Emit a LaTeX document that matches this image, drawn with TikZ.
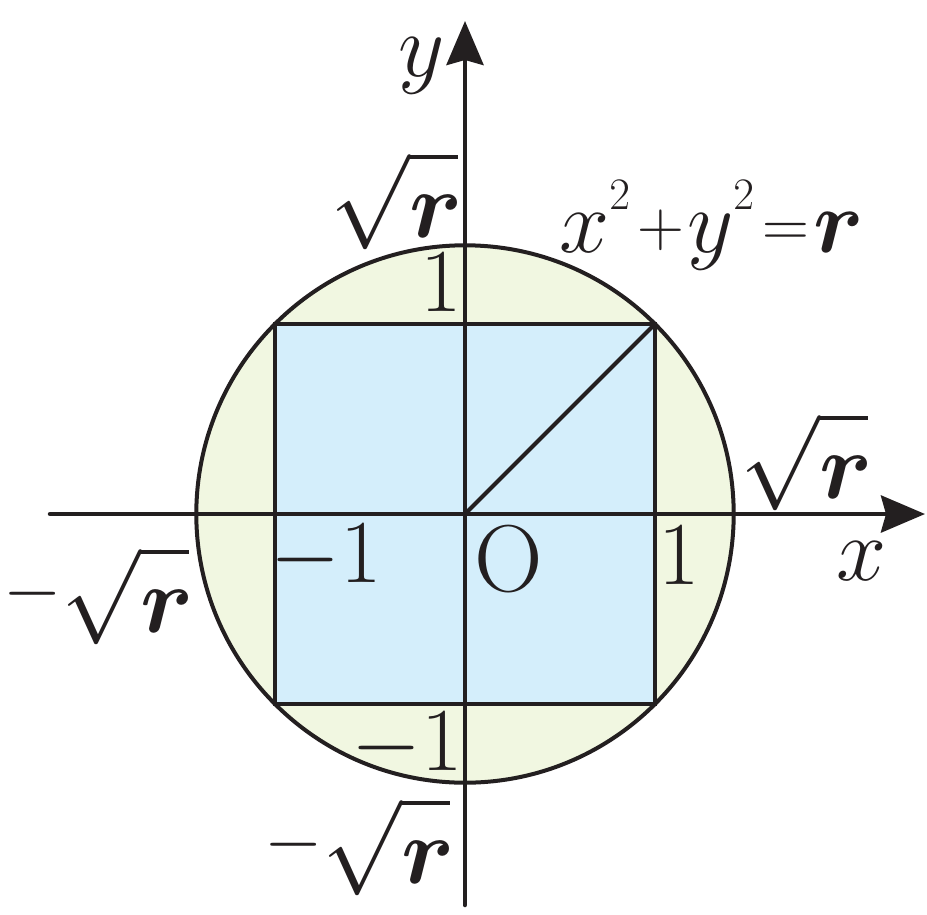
\RequirePackage{fix-cm}
\documentclass[tikz,border=0pt]{standalone}
\usetikzlibrary{arrows.meta}
\definecolor{ink}{HTML}{231F20}
\definecolor{sqblue}{HTML}{D4EEFB}
\definecolor{cgreen}{HTML}{F1F7E1}
\newcommand\myop[1]{\mathord{\raisebox{6pt}{\fontsize{65}{70}\selectfont$#1$}}}
\newcommand\mymin{\mathord{\raisebox{20pt}{\fontsize{75}{80}\selectfont$-$}}}
\newcommand\myr{\mbox{\boldmath$r$}}
\newcommand\mysup{^{\raisebox{10pt}{$\scriptscriptstyle 2$}}}
\newcommand\mysq{\sqrt{\rule{0pt}{0.68em}\myr\mkern-1mu}}
\begin{document}
\begin{tikzpicture}[x=1pt,y=-1pt,
  lab/.style={inner sep=0pt, font=\fontsize{90}{100}\selectfont, text=ink},
  rlab/.style={lab, font=\fontsize{95}{100}\selectfont},
  edge/.style={line width=4.5pt, draw=ink},
  axis/.style={line width=4.5pt, draw=ink, line cap=round,
    -{Stealth[length=44pt,width=37pt,inset=5pt,fill=ink]}}]
\useasboundingbox (0,0) rectangle (927,914);
\coordinate (O) at (465,514);
\coordinate (SQa) at (275,324);
\coordinate (SQb) at (655,704);
\coordinate (SQc) at (655,324);
\coordinate (xs) at (50,514);
\coordinate (xe) at (925,514);
\coordinate (ys) at (465,905);
\coordinate (ye) at (465,21);
\fill[cgreen] (O) circle[radius=268.7];
\fill[sqblue] (SQa) rectangle (SQb);
\draw[edge] (SQa) rectangle (SQb);
\draw[line width=4pt, draw=ink] (O) circle[radius=268.7];
\draw[line width=4pt, draw=ink] (O) -- (SQc);
\draw[axis] (xs) -- (xe);
\draw[axis] (ys) -- (ye);
\node[lab, anchor=base] (ylab) at (422,76) {$y$};
\node[lab, anchor=base] (xlab) at (862,580) {$x$};
\node[lab, anchor=base, font=\fontsize{95}{100}\selectfont] (olab) at (509,591) {O};
\node[lab, anchor=base] (onet) at (441,311) {1};
\node[lab, anchor=base] (oner) at (679,584) {1};
\node[lab, anchor=base east] (mol) at (382,582) {$-1$};
\node[lab, anchor=base east] (mob) at (463,770) {$-1$};
\node[rlab, anchor=base east] (sqt) at (458,237) {$\mysq$};
\node[rlab, anchor=base east] (sqr) at (868,498) {$\mysq$};
\node[rlab, anchor=base east] (sql) at (189,632) {$\mymin\mysq$};
\node[rlab, anchor=base east] (sqb) at (450,883) {$\mymin\mysq$};
\node[lab, anchor=base west] (eq) at (559,252)
  {$x\mysup\mkern1.5mu\myop{+}\mkern0.5mu y\mysup\mkern1.5mu\myop{=}\mkern1mu\myr$};
\end{tikzpicture}
\end{document}
